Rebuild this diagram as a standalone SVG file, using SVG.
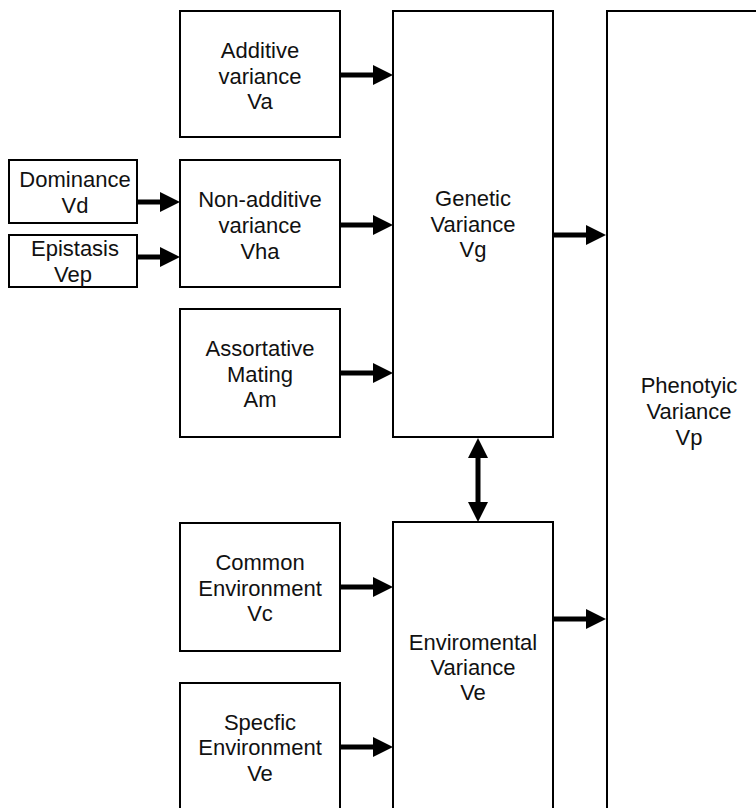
<svg xmlns="http://www.w3.org/2000/svg" width="756" height="808" viewBox="0 0 756 808">
<style>
.box{fill:#fff;stroke:#000;stroke-width:2}
text{font-family:"Liberation Sans",Arial,sans-serif;font-size:22px;fill:#111;text-anchor:middle}
.conn{stroke:#000;stroke-width:5;fill:none}
</style>
<defs>
<marker id="ah" markerUnits="userSpaceOnUse" markerWidth="20" markerHeight="20" refX="10" refY="10" orient="auto-start-reverse" viewBox="0 0 20 20">
<path d="M0,0 L20,10 L0,20 z" fill="#000"/>
</marker>
</defs>
<rect width="756" height="808" fill="#fff"/>
<g id="phenotypic"><rect class="box" x="607" y="11" width="160" height="800"/>
<text x="689" y="393">Phenotyic</text><text x="689" y="419">Variance</text><text x="689" y="445">Vp</text></g>
<g id="genetic"><rect class="box" x="393" y="11" width="160" height="426"/>
<text x="473" y="206">Genetic</text><text x="473" y="232">Variance</text><text x="473" y="257">Vg</text></g>
<g id="environmental"><rect class="box" x="393" y="522" width="160" height="290"/>
<text x="473" y="650">Enviromental</text><text x="473" y="675">Variance</text><text x="473" y="700">Ve</text></g>
<g id="additive"><rect class="box" x="180" y="11" width="160" height="126"/>
<text x="260" y="58">Additive</text><text x="260" y="83.5">variance</text><text x="260" y="109">Va</text></g>
<g id="nonadditive"><rect class="box" x="180" y="160" width="160" height="127"/>
<text x="260" y="207">Non-additive</text><text x="260" y="233">variance</text><text x="260" y="259">Vha</text></g>
<g id="assortative"><rect class="box" x="180" y="309" width="160" height="128"/>
<text x="260" y="356">Assortative</text><text x="260" y="382">Mating</text><text x="260" y="407">Am</text></g>
<g id="common"><rect class="box" x="180" y="523" width="160" height="128"/>
<text x="260" y="570">Common</text><text x="260" y="596">Environment</text><text x="260" y="621">Vc</text></g>
<g id="specific"><rect class="box" x="180" y="683" width="160" height="128"/>
<text x="260" y="730">Specfic</text><text x="260" y="755">Environment</text><text x="260" y="781">Ve</text></g>
<g id="dominance"><rect class="box" x="9" y="160" width="128" height="63"/>
<text x="75" y="187">Dominance</text><text x="75" y="213">Vd</text></g>
<g id="epistasis"><rect class="box" x="9" y="235" width="128" height="52"/>
<text x="75" y="256">Epistasis</text><text x="73" y="282">Vep</text></g>
<g id="connectors">
<line class="conn" x1="137" y1="202" x2="170" y2="202" marker-end="url(#ah)"/>
<line class="conn" x1="137" y1="257" x2="170" y2="257" marker-end="url(#ah)"/>
<line class="conn" x1="340" y1="75" x2="383" y2="75" marker-end="url(#ah)"/>
<line class="conn" x1="340" y1="225" x2="383" y2="225" marker-end="url(#ah)"/>
<line class="conn" x1="340" y1="373" x2="383" y2="373" marker-end="url(#ah)"/>
<line class="conn" x1="340" y1="587" x2="383" y2="587" marker-end="url(#ah)"/>
<line class="conn" x1="340" y1="747" x2="383" y2="747" marker-end="url(#ah)"/>
<line class="conn" x1="553" y1="235" x2="596" y2="235" marker-end="url(#ah)"/>
<line class="conn" x1="553" y1="619" x2="596" y2="619" marker-end="url(#ah)"/>
<line class="conn" x1="478" y1="448" x2="478" y2="512" marker-start="url(#ah)" marker-end="url(#ah)"/>
</g>
</svg>
